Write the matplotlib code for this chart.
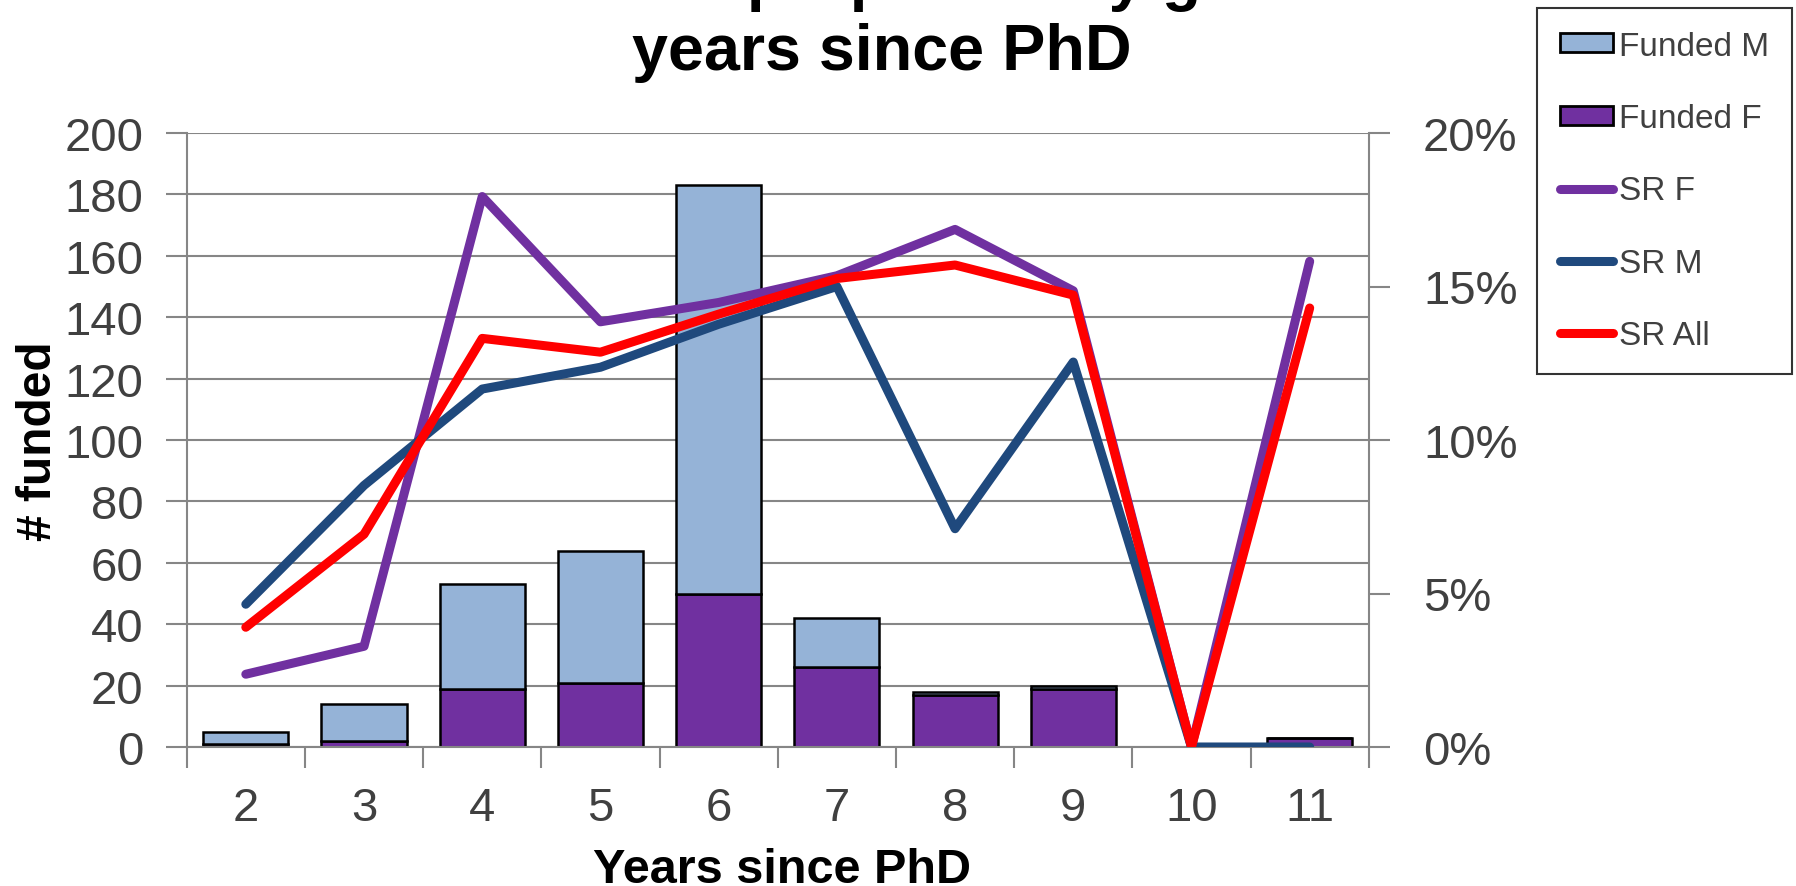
import matplotlib
matplotlib.use("Agg")
import matplotlib.pyplot as plt
import numpy as np
from matplotlib.patches import Patch
from matplotlib.lines import Line2D
from matplotlib.ticker import FuncFormatter, MultipleLocator

plt.rcParams['font.family'] = ['Liberation Sans', 'DejaVu Sans']

years = ['2', '3', '4', '5', '6', '7', '8', '9', '10', '11']
funded_f = [1, 2, 19, 21, 50, 26, 17, 19, 0, 3]
funded_m = [4, 12, 34, 43, 133, 16, 1, 1, 0, 0]
sr_f = [0.0237, 0.0328, 0.1793, 0.1385, 0.1448, 0.1535, 0.1686, 0.1486, 0.0, 0.1582]
sr_m = [0.0465, 0.0852, 0.1166, 0.1237, 0.1377, 0.1500, 0.0711, 0.1254, 0.0, 0.0]
sr_all = [0.0390, 0.0693, 0.1331, 0.1286, 0.1410, 0.1526, 0.1570, 0.1472, 0.0, 0.1430]

C_M = '#95B3D7'
C_F = '#7030A0'
C_SRF = '#7030A0'
C_SRM = '#1F497D'
C_ALL = '#FF0000'
GRID = '#868686'
TXT = '#404040'

W, H = 1796, 887
fig = plt.figure(figsize=(W / 100, H / 100), dpi=100)
ax = fig.add_axes([186.7 / W, 1 - 748 / H, (1368.8 - 186.7) / W, (748 - 134) / H])
x = np.arange(len(years))

ax.set_axisbelow(True)
ax.yaxis.grid(True, color=GRID, linewidth=1.5)
ax.bar(x, funded_f, width=0.72, color=C_F, edgecolor='black', linewidth=1.8, zorder=2)
ax.bar(x, funded_m, width=0.72, bottom=funded_f, color=C_M, edgecolor='black', linewidth=1.8, zorder=2)

ax.set_xlim(-0.5, len(years) - 0.5)
ax.set_ylim(0, 200)
ax.yaxis.set_major_locator(MultipleLocator(20))
ax.set_xticks(x)
ax.set_xticklabels(years)
ax.set_xticks(np.arange(-0.5, len(years)), minor=True)
ax.tick_params(axis='x', which='major', length=0, pad=28, labelsize=34, labelcolor=TXT)
ax.tick_params(axis='x', which='minor', length=15, width=1.5, color=GRID, direction='out')
ax.tick_params(axis='y', length=15, width=1.5, color=GRID, direction='out', labelsize=34,
               labelcolor=TXT, pad=16)
for s in ['top', 'right']:
    ax.spines[s].set_visible(False)
for s in ['left', 'bottom']:
    ax.spines[s].set_color(GRID)
    ax.spines[s].set_linewidth(1.5)

ax.set_ylabel('# funded', fontsize=34.5, fontweight='bold', color='black', va='center')
ax.yaxis.set_label_coords((38.5 - 186.7) / (1368.8 - 186.7), 0.5)
ax.set_xlabel('Years since PhD', fontsize=35, fontweight='bold', color='black', va='top')
ax.xaxis.set_label_coords(0.504, (748 - 848) / (748 - 134))

ax2 = ax.twinx()
ax2.set_ylim(0, 0.2)
ax2.yaxis.set_major_locator(MultipleLocator(0.05))
ax2.yaxis.set_major_formatter(FuncFormatter(lambda v, p: f'{v*100:.0f}%'))
ax2.tick_params(axis='y', length=15, width=1.5, color=GRID, direction='out', labelsize=34,
                labelcolor=TXT, pad=24)
for s in ['top', 'left', 'bottom']:
    ax2.spines[s].set_visible(False)
ax2.spines['right'].set_color(GRID)
ax2.spines['right'].set_linewidth(1.5)

lw = 6.5
kw = dict(linewidth=lw, solid_capstyle='round', solid_joinstyle='round')
ax2.plot(x, sr_f, color=C_SRF, **kw)
ax2.plot(x, sr_m, color=C_SRM, **kw)
ax2.plot(x, sr_all, color=C_ALL, **kw)

# Title (first line cut off at the top edge of the image, as in the original)
fig.text(0.491, 1 + 1 / H, 'Success rate of proposals by gender and', ha='center', va='baseline',
         fontsize=46, fontweight='bold', color='black')
fig.text(0.491, 1 - 70 / H, 'years since PhD', ha='center', va='baseline',
         fontsize=46.5, fontweight='bold', color='black')

handles = [
    Patch(facecolor=C_M, edgecolor='black', linewidth=2),
    Patch(facecolor=C_F, edgecolor='black', linewidth=2),
    Line2D([], [], color=C_SRF, linewidth=lw, solid_capstyle='round'),
    Line2D([], [], color=C_SRM, linewidth=lw, solid_capstyle='round'),
    Line2D([], [], color=C_ALL, linewidth=lw, solid_capstyle='round'),
]
labels = ['Funded M', 'Funded F', 'SR F', 'SR M', 'SR All']
leg = fig.legend(handles, labels, loc='upper left', bbox_to_anchor=(1537 / W, 1 - 9 / H),
                 fontsize=24, frameon=True, fancybox=False, edgecolor='black',
                 handlelength=1.6, handleheight=0.5, handletextpad=0.18, labelspacing=1.24,
                 borderpad=0.68, borderaxespad=0)
leg.get_frame().set_linewidth(1.5)
for t in leg.get_texts():
    t.set_color(TXT)

fig.savefig('out.png', dpi=100)
